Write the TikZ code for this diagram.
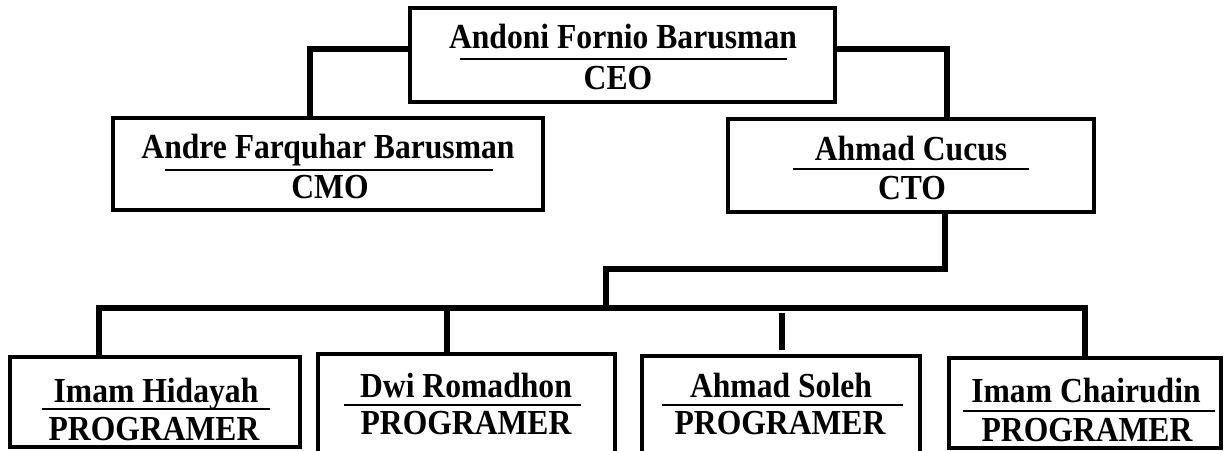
\documentclass[tikz,border=0pt]{standalone}
\usepackage{fontspec}
\setmainfont{Liberation Serif}
\newfontfamily\orgfont{Liberation Serif}[FakeStretch=0.9]
\usepackage{tikz}
\usetikzlibrary{calc}
\usetikzlibrary{positioning}
\tikzstyle{orgbox}=[black, draw=black, line width=2.3pt, shape=rectangle, fill=white, inner sep=0pt]
\tikzstyle{orgtext}=[black, anchor=base, inner sep=0pt, font=\orgfont\bfseries\fontsize{20}{22}\selectfont]
\tikzstyle{link}=[black, line width=2.9pt, line join=miter]
\tikzstyle{underline}=[black, line width=1.3pt]

\begin{document}
\begin{tikzpicture}[x=0.02cm, y=-0.02cm]
\clip (0,0) rectangle (1224,450);
\node [orgbox, minimum width=8.5cm, minimum height=1.88cm] (ceo) at (622.5,55) {};
\node [orgbox, minimum width=8.6cm, minimum height=1.84cm] (cmo) at (328,164) {};
\node [orgbox, minimum width=7.32cm, minimum height=1.86cm] (cto) at (911,165.5) {};
\node [orgbox, minimum width=5.8cm, minimum height=1.8cm] (prog1) at (155,402) {};
\node [orgbox, minimum width=5.94cm, minimum height=2.32cm] (prog2) at (466.5,412) {};
\node [orgbox, minimum width=5.56cm, minimum height=2.28cm] (prog3) at (781,413) {};
\node [orgbox, minimum width=5.44cm, minimum height=1.8cm] (prog4) at (1085,403) {};

\node [orgtext] (ceoname) at (623,48) {Andoni Fornio Barusman};
\node [orgtext] (ceotitle) at (618,89) {CEO};
\draw [underline] (460,59) -- (787,59);
\node [orgtext] (cmoname) at (328,158) {Andre Farquhar Barusman};
\node [orgtext] (cmotitle) at (330,198) {CMO};
\draw [underline] (165,170) -- (493,170);
\node [orgtext] (ctoname) at (911,160) {Ahmad Cucus};
\node [orgtext] (ctotitle) at (912,199) {CTO};
\draw [underline] (793,169) -- (1029,169);
\node [orgtext] (prog1name) at (156,402) {Imam Hidayah};
\node [orgtext] (prog1title) at (154,440) {PROGRAMER};
\draw [underline] (42,409) -- (270,409);
\node [orgtext] (prog2name) at (466,397) {Dwi Romadhon};
\node [orgtext] (prog2title) at (466,434) {PROGRAMER};
\draw [underline] (344,405) -- (581,405);
\node [orgtext] (prog3name) at (781,397) {Ahmad Soleh};
\node [orgtext] (prog3title) at (780,434) {PROGRAMER};
\draw [underline] (662,405) -- (903,405);
\node [orgtext] (prog4name) at (1086,402) {Imam Chairudin};
\node [orgtext] (prog4title) at (1087,441) {PROGRAMER};
\draw [underline] (963,411) -- (1215,411);

\coordinate (bus) at (606,308);
\draw [link] (ceo.west |- 0,49) -| (310,0 |- cmo.north);
\draw [link] (ceo.east |- 0,49) -| (947,0 |- cto.north);
\draw [link] (945,0 |- cto.south) |- (606,269) -- (bus);
\draw [link] (99,0 |- prog1.north) |- (prog4.north |- bus) -- (prog4.north);
\draw [link] (447,0 |- bus) -- (447,0 |- prog2.north);
\draw [link, shorten <=0.1cm, shorten >=0.08cm] (782,0 |- bus) -- (782,0 |- prog3.north);
\end{tikzpicture}
\end{document}
